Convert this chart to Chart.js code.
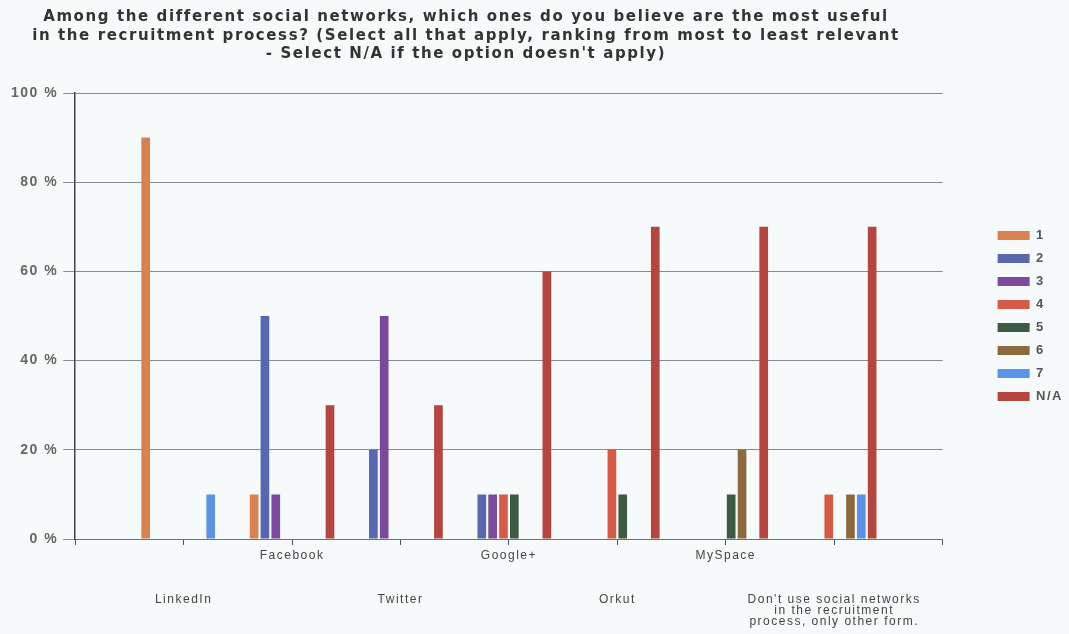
<!DOCTYPE html>
<html>
<head>
<meta charset="utf-8">
<script src="https://cdn.jsdelivr.net/npm/chart.js@4.4.1/dist/chart.umd.min.js"></script>
<style>
    html, body { margin: 0; padding: 0; background: #f6fafa; }
    #wrap { position: relative; width: 1069px; height: 634px; }
    #grafico { position: absolute; left: 0; top: 0; }
    #titulo {
        position: absolute; left: 0; top: 7px; width: 932px;
        text-align: center; color: #333;
        font: bold 15px 'DejaVu Sans', sans-serif;
        letter-spacing: 1.6px; line-height: 18.5px;
    }
</style>
</head>
<body>
<div id="wrap">
    <canvas id="grafico" width="1069" height="634"></canvas>
    <div id="titulo">Among the different social networks, which ones do you believe are the most useful<br>in the recruitment process? (Select all that apply, ranking from most to least relevant<br>- Select N/A if the option doesn't apply)</div>
</div>
<script>
// --- Datos ---
const categorias = [
    'LinkedIn', 'Facebook', 'Twitter', 'Google+', 'Orkut', 'MySpace',
    ["Don't use social networks", 'in the recruitment', 'process, only other form.']
];
const nombresSeries = ['1', '2', '3', '4', '5', '6', '7', 'N/A'];

const serie1  = [90, 10, null, null, null, null, null];
const serie2  = [null, 50, 20, 10, null, null, null];
const serie3  = [null, 10, 50, 10, null, null, null];
const serie4  = [null, null, null, 10, 20, null, 10];
const serie5  = [null, null, null, 10, 10, 10, null];
const serie6  = [null, null, null, null, null, 20, 10];
const serie7  = [10, null, null, null, null, null, 10];
const serieNA = [null, 30, 30, 60, 70, 70, 70];

const colores = ['#d9824f', '#5868b0', '#7b4a9c', '#d65a45', '#3a5a44', '#8b6b3d', '#5b93e6', '#b5453e'];

// Etiquetas escalonadas (una arriba, otra abajo) + huecos en los extremos del eje
const etiquetas = ['', ...categorias.map((c, i) => {
    const lineas = Array.isArray(c) ? c : [c];
    return i % 2 === 1 ? lineas : ['', '', '', '', ...lineas];
}), ''];

const rellenar = arr => [null, ...arr, null];

const series = [serie1, serie2, serie3, serie4, serie5, serie6, serie7, serieNA];
const datasets = series.map((s, i) => ({
    label: nombresSeries[i],
    data: rellenar(s),
    backgroundColor: colores[i],
    categoryPercentage: 0.8,
    barPercentage: 0.8
}));

// Espaciado de letras (el original tiene texto ancho)
const espaciado = {
    id: 'espaciado',
    beforeLayout(chart) { chart.ctx.letterSpacing = '1.5px'; },
    beforeDraw(chart) { chart.ctx.letterSpacing = '1.5px'; }
};

// Separar la leyenda del area del grafico
const leyendaAparte = {
    id: 'leyendaAparte',
    afterLayout(chart) {
        chart.legend.left += 45;
        chart.legend.right += 45;
    }
};

new Chart(document.getElementById('grafico').getContext('2d'), {
    type: 'bar',
    data: { labels: etiquetas, datasets: datasets },
    plugins: [espaciado, leyendaAparte],
    options: {
        responsive: false,
        animation: false,
        layout: { padding: { top: 93, right: 41, bottom: 2, left: 6 } },
        plugins: {
            legend: {
                position: 'right',
                fullSize: false,
                labels: {
                    boxWidth: 32,
                    boxHeight: 9,
                    padding: 10,
                    color: '#555',
                    font: { family: "'Liberation Sans', Arial, sans-serif", size: 13, weight: 'bold' }
                }
            },
            tooltip: { enabled: false }
        },
        scales: {
            x: {
                offset: false,
                grid: { offset: false, drawOnChartArea: false, drawTicks: true, tickLength: 6, color: '#4b5163' },
                border: { color: '#6b7080', width: 1 },
                ticks: {
                    autoSkip: false,
                    maxRotation: 0,
                    padding: 5,
                    color: '#444',
                    font: { family: "'Liberation Sans', Arial, sans-serif", size: 12, lineHeight: '11px' }
                }
            },
            y: {
                min: 0,
                max: 100,
                grid: { color: '#858a99', lineWidth: 1, tickLength: 12 },
                border: { color: '#3d4252', width: 1.5 },
                ticks: {
                    stepSize: 20,
                    padding: 5,
                    color: '#666',
                    font: { family: "'Liberation Sans', Arial, sans-serif", size: 14, weight: 'bold' },
                    callback: v => v + ' %'
                }
            }
        }
    }
});
</script>
</body>
</html>
